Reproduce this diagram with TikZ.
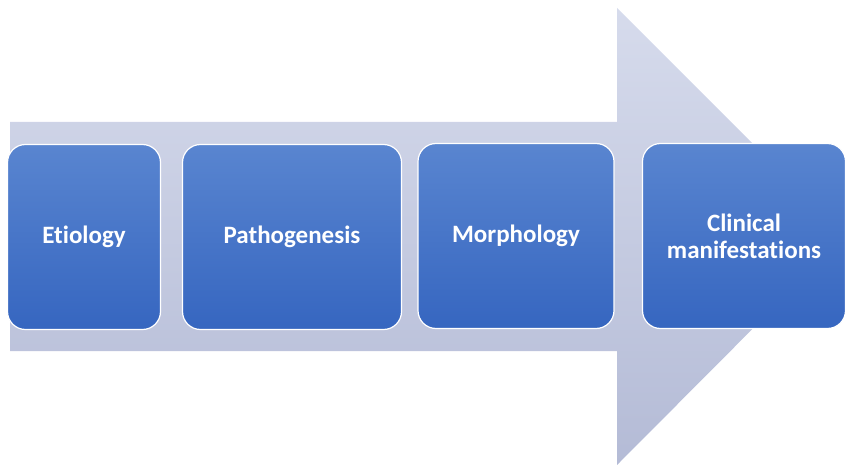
\documentclass[tikz,border=0pt]{standalone}
\usepackage{fontspec}
\setmainfont{Carlito}[Ligatures=NoCommon]
\usepackage{xcolor}
\usepackage{tikz}

\definecolor{arrowtop}{HTML}{D6DBEC}
\definecolor{arrowbot}{HTML}{B4BBD6}
\definecolor{boxtop}{HTML}{5985D0}
\definecolor{boxbot}{HTML}{3666C0}

\begin{document}
\begin{tikzpicture}[x=1pt, y=-1pt, every node/.style={font=\fontsize{25}{27}\selectfont\bfseries},
    stepbox/.style={draw=white, line width=1.2pt, rectangle, rounded corners=18pt, top color=boxtop, bottom color=boxbot, text=white, align=center, minimum height=185pt}]
    \useasboundingbox (0,0) rectangle (845,465);

    % Background arrow
    \shade[top color=arrowtop, bottom color=arrowbot] (10,122) -- (617,122) -- (617,8) -- (845,236) -- (617,465) -- (617,351) -- (10,351) -- cycle;

    % Steps
    \node[stepbox, minimum width=153pt] (etio) at (84,237) {Etiology};
    \node[stepbox, minimum width=219pt] (patho) at (292,237) {Pathogenesis};
    \node[stepbox, minimum width=196pt] (morph) at (516,236) {Morphology};
    \node[stepbox, minimum width=203pt] (clin) at (744,236) {Clinical\\manifestations};
\end{tikzpicture}
\end{document}
